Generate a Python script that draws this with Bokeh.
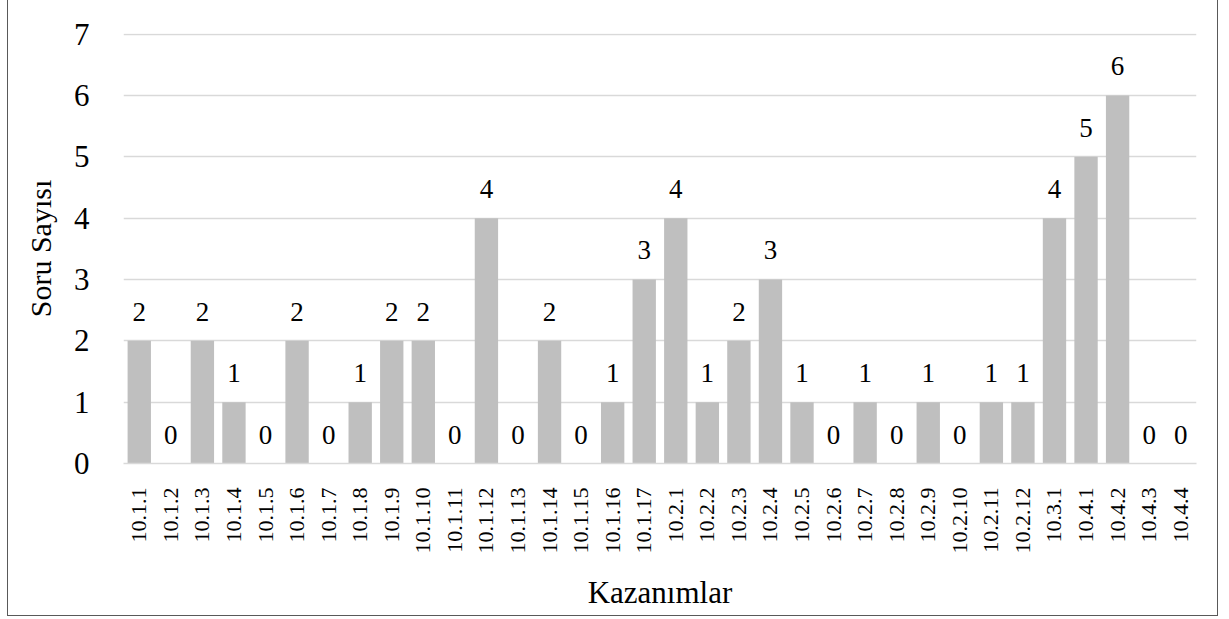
import math
from bokeh.plotting import figure
from bokeh.models import ColumnDataSource, Range1d, FixedTicker
from bokeh.core.properties import value
from bokeh.embed import file_html
from bokeh.resources import INLINE

categories = ["10.1.1", "10.1.2", "10.1.3", "10.1.4", "10.1.5", "10.1.6", "10.1.7",
              "10.1.8", "10.1.9", "10.1.10", "10.1.11", "10.1.12", "10.1.13", "10.1.14",
              "10.1.15", "10.1.16", "10.1.17", "10.2.1", "10.2.2", "10.2.3", "10.2.4",
              "10.2.5", "10.2.6", "10.2.7", "10.2.8", "10.2.9", "10.2.10", "10.2.11",
              "10.2.12", "10.3.1", "10.4.1", "10.4.2", "10.4.3", "10.4.4"]
counts = [2, 0, 2, 1, 0, 2, 0, 1, 2, 2, 0, 4, 0, 2, 0, 1, 3, 4, 1, 2, 3, 1, 0, 1, 0, 1,
          0, 1, 1, 4, 5, 6, 0, 0]
y_ticks = [0, 1, 2, 3, 4, 5, 6, 7]
x_title = "Kazanımlar"
y_title = "Soru Sayısı"

FONT = "Liberation Serif"

src = ColumnDataSource(data=dict(cat=categories, val=counts,
                                 lab=[str(v) for v in counts]))

p = figure(x_range=categories, y_range=Range1d(0, 7.01), width=1211, height=616,
           output_backend="svg", toolbar_location=None,
           min_border_left=115, min_border_right=23, min_border_top=33,
           min_border_bottom=153)
p.styles = {"margin-left": "7px",
            "border-left": "1.5px solid #595959",
            "border-right": "1.5px solid #595959",
            "border-bottom": "1.5px solid #595959",
            "box-sizing": "border-box"}
p.outline_line_color = None
p.background_fill_color = "white"

p.vbar(x="cat", top="val", width=0.74, source=src, color="#bfbfbf", line_color=None)
p.text(x="cat", y="val", text="lab", source=src, text_align="center",
       text_baseline="alphabetic", y_offset=-29, text_font=value(FONT),
       text_font_size="27px", text_color="black")

p.xgrid.grid_line_color = None
p.ygrid.grid_line_color = "#d9d9d9"
p.ygrid.grid_line_width = 1.5
p.yaxis.ticker = FixedTicker(ticks=y_ticks)

p.yaxis.axis_line_color = None
p.yaxis.major_tick_line_color = None
p.yaxis.minor_tick_line_color = None
p.yaxis.major_label_text_font = FONT
p.yaxis.major_label_text_font_size = "31px"
p.yaxis.major_label_text_color = "black"
p.yaxis.major_label_standoff = 28
p.yaxis.axis_label = y_title
p.yaxis.axis_label_text_font = FONT
p.yaxis.axis_label_text_font_style = "normal"
p.yaxis.axis_label_text_font_size = "30px"
p.yaxis.axis_label_text_color = "black"
p.yaxis.axis_label_standoff = 14

p.xaxis.axis_line_color = "#d9d9d9"
p.xaxis.axis_line_width = 1.5
p.xaxis.major_tick_line_color = None
p.xaxis.minor_tick_line_color = None
p.xaxis.major_label_orientation = math.pi / 2
p.xaxis.major_label_text_font = FONT
p.xaxis.major_label_text_font_size = "22px"
p.xaxis.major_label_text_color = "black"
p.xaxis.major_label_standoff = 18
p.xaxis.axis_label = x_title
p.xaxis.axis_label_text_font = FONT
p.xaxis.axis_label_text_font_style = "normal"
p.xaxis.axis_label_text_font_size = "31px"
p.xaxis.axis_label_text_color = "black"
p.xaxis.axis_label_standoff = 18

open("out.html", "w").write(file_html(p, INLINE))
